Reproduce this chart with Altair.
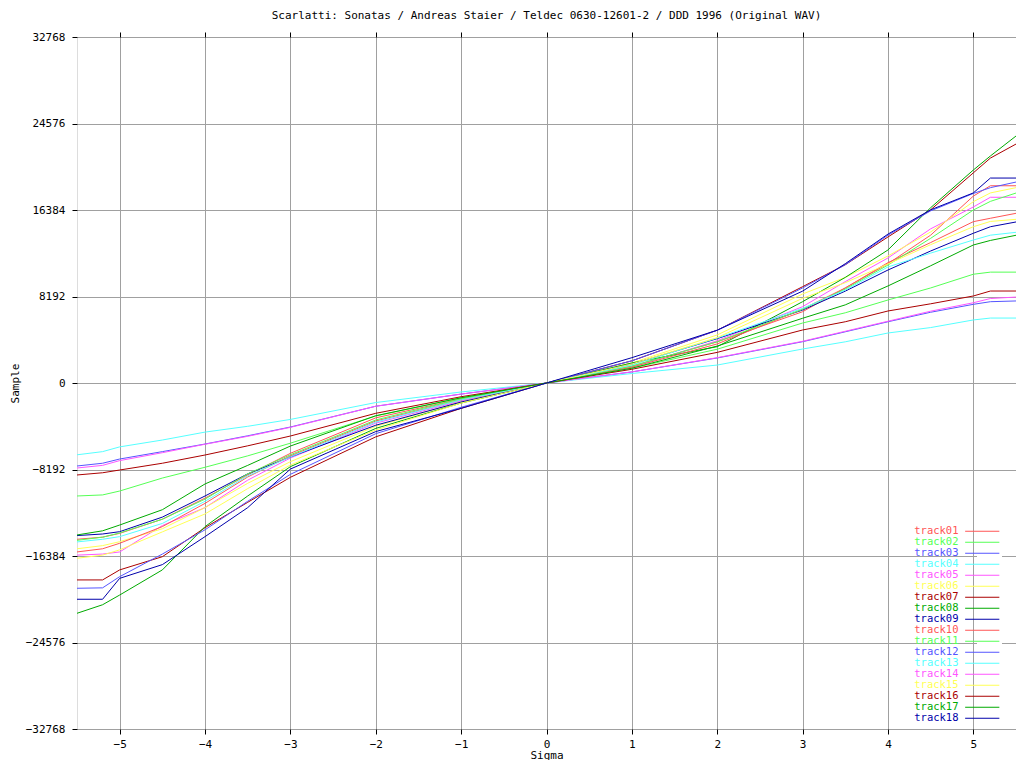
import altair as alt
import pandas as pd

TITLE = "Scarlatti: Sonatas / Andreas Staier / Teldec 0630-12601-2 / DDD 1996 (Original WAV)"

SIGMA = [-5.5, -5.2, -5.0, -4.5, -4.0, -3.5, -3.0, -2.0, -1.0, 0.0, 1.0, 2.0, 3.0, 3.5, 4.0, 4.5, 5.0, 5.2, 5.5]

TRACKS = ["track01", "track02", "track03", "track04", "track05", "track06",
          "track07", "track08", "track09", "track10", "track11", "track12",
          "track13", "track14", "track15", "track16", "track17", "track18"]

COLORS = ["#ff5555", "#55ff55", "#5555ff", "#55ffff", "#ff55ff", "#ffff55",
          "#aa0000", "#00aa00", "#0000aa",
          "#ff5555", "#55ff55", "#5555ff", "#55ffff", "#ff55ff", "#ffff55",
          "#aa0000", "#00aa00", "#0000aa"]

track01 = [-14800, -14600, -14240, -12900, -10900, -8700, -6660, -3300, -1500, 0, 1600, 3900, 6750, 9000, 11300, 14000, 17700, 18680, 18680]
track02 = [-10700, -10600, -10230, -9000, -7980, -6900, -5700, -3125, -1400, 0, 1400, 3200, 5680, 6650, 7860, 9000, 10300, 10500, 10500]
track03 = [-7860, -7600, -7200, -6500, -5780, -5000, -4170, -2200, -1050, 0, 1050, 2370, 3910, 4850, 5800, 6700, 7450, 7700, 7770]
track04 = [-6800, -6500, -6050, -5400, -4650, -4100, -3450, -1850, -850, 0, 900, 1700, 3220, 3900, 4735, 5250, 5970, 6150, 6150]
track05 = [-16300, -16200, -16000, -13500, -11800, -9200, -7100, -3800, -1700, 0, 1500, 4000, 7230, 9600, 11840, 14600, 16670, 17590, 17590]
track06 = [-15700, -15400, -15030, -13800, -11800, -9500, -7450, -4100, -1800, 0, 1900, 4550, 8430, 10000, 12030, 14300, 17170, 18000, 18500]
track07 = [-18650, -18650, -17700, -16450, -13700, -11300, -8930, -5100, -2400, 0, 2100, 5000, 9120, 11200, 13830, 16400, 19900, 21300, 22630]
track08 = [-21810, -21000, -20080, -17700, -13600, -10700, -7920, -4300, -1900, 0, 1900, 3440, 7700, 10000, 12600, 16600, 20170, 21500, 23390]
track09 = [-14450, -14300, -14080, -12700, -10700, -8600, -7000, -4000, -1800, 0, 1800, 4200, 6910, 8700, 10700, 12500, 14180, 14800, 15250]
track10 = [-16000, -15700, -15180, -13600, -11400, -8900, -6900, -3600, -1600, 0, 1500, 3700, 7000, 9000, 11400, 13300, 15280, 15600, 16070]
track11 = [-14900, -14600, -14200, -12900, -11000, -8600, -6800, -3500, -1500, 0, 1600, 3900, 6980, 8900, 11170, 13700, 16380, 17200, 17990]
track12 = [-19440, -19400, -18340, -16200, -13900, -11200, -8650, -4800, -2300, 0, 2100, 5000, 9000, 11200, 14000, 16300, 17950, 18500, 19030]
track13 = [-15050, -14800, -14550, -13300, -11200, -8800, -7000, -3700, -1600, 0, 1700, 4260, 7070, 8800, 10990, 12300, 13540, 14000, 14270]
track14 = [-8050, -7800, -7350, -6600, -5800, -5050, -4200, -2200, -1050, 0, 1050, 2400, 3950, 4900, 5850, 6800, 7600, 8000, 8140]
track15 = [-16600, -16300, -15800, -14100, -12400, -10000, -7770, -4450, -1900, 0, 1800, 4300, 8020, 9500, 11270, 13100, 14800, 15300, 15500]
track16 = [-8710, -8500, -8240, -7600, -6820, -5950, -5020, -2870, -1300, 0, 1300, 2900, 5020, 5800, 6820, 7500, 8240, 8710, 8710]
track17 = [-14390, -14000, -13450, -12000, -9560, -7800, -5970, -3100, -1400, 0, 1400, 3500, 6130, 7400, 9190, 11100, 13070, 13500, 13990]
track18 = [-20480, -20480, -18500, -17200, -14550, -11800, -8150, -4600, -2400, 0, 2400, 5000, 8700, 11300, 14100, 16400, 18000, 19410, 19410]

SERIES = [track01, track02, track03, track04, track05, track06, track07, track08, track09,
          track10, track11, track12, track13, track14, track15, track16, track17, track18]

X_TICKS = [-5, -4, -3, -2, -1, 0, 1, 2, 3, 4, 5]
Y_TICKS = [-32768, -24576, -16384, -8192, 0, 8192, 16384, 24576, 32768]

rows = []
for name, vals in zip(TRACKS, SERIES):
    for s, v in zip(SIGMA, vals):
        rows.append({"track": name, "sigma": s, "sample": v})
df = pd.DataFrame(rows)

FONT = "DejaVu Sans Mono"

xscale = alt.Scale(domain=[-5.5, 5.5], nice=False, zero=False)
yscale = alt.Scale(domain=[-32768, 32768], nice=False, zero=False)

lines = alt.Chart(df).mark_line(strokeWidth=1, clip=True).encode(
    x=alt.X("sigma:Q", scale=xscale,
            axis=alt.Axis(values=X_TICKS, title="Sigma", orient="bottom",
                          grid=True, gridColor="#a0a0a0", gridWidth=1,
                          domain=False, tickColor="black", tickSize=5,
                          labelFont=FONT, labelFontSize=11, labelColor="black",
                          labelPadding=4, titleFont=FONT, titleFontSize=11,
                          titleFontWeight="normal", titleColor="black", titlePadding=0)),
    y=alt.Y("sample:Q", scale=yscale,
            axis=alt.Axis(values=Y_TICKS, title="Sample", orient="left", format="d",
                          grid=True, gridColor="#a0a0a0", gridWidth=1,
                          domain=False, tickColor="black", tickSize=5,
                          labelFont=FONT, labelFontSize=11, labelColor="black",
                          labelPadding=7, titleFont=FONT, titleFontSize=11,
                          titleFontWeight="normal", titleColor="black", titlePadding=5)),
    color=alt.Color("track:N", scale=alt.Scale(domain=TRACKS, range=COLORS),
                    legend=alt.Legend(orient="none", legendX=900, legendY=489, title=None,
                                      symbolType="M-3.8,0H3.8", symbolSize=81,
                                      symbolStrokeWidth=1, symbolFillColor="transparent",
                                      rowPadding=0, labelAlign="right",
                                      labelOffset={"expr": "-29"},
                                      labelFont=FONT, labelFontSize=10.5,
                                      labelColor={"expr": "scale('color', datum.value)"},
                                      padding=0, fillColor="white")),
)

mirror = alt.Chart(df).mark_line(strokeWidth=1, opacity=0).encode(
    x=alt.X("sigma:Q", scale=xscale,
            axis=alt.Axis(values=X_TICKS, orient="top", title=None, labels=False,
                          grid=False, domain=False, tickColor="black", tickSize=5)),
    y=alt.Y("sample:Q", scale=yscale,
            axis=alt.Axis(values=Y_TICKS, orient="right", title=None, labels=False,
                          grid=False, domain=False, tickColor="black", tickSize=5)),
    detail="track:N",
)

chart = alt.layer(lines, mirror).resolve_axis(x="independent", y="independent").properties(
    width=939, height=692,
    title=alt.TitleParams(TITLE, font=FONT, fontSize=11, fontWeight="normal",
                          color="black", anchor="middle", offset=10),
    autosize=alt.AutoSizeParams(type="none"),
    padding={"left": 69, "top": 29, "right": 0, "bottom": 31},
).configure_view(stroke="black", strokeWidth=1).configure(background="white")

chart.save("out.html", embed_options={"renderer": "svg", "actions": False})
